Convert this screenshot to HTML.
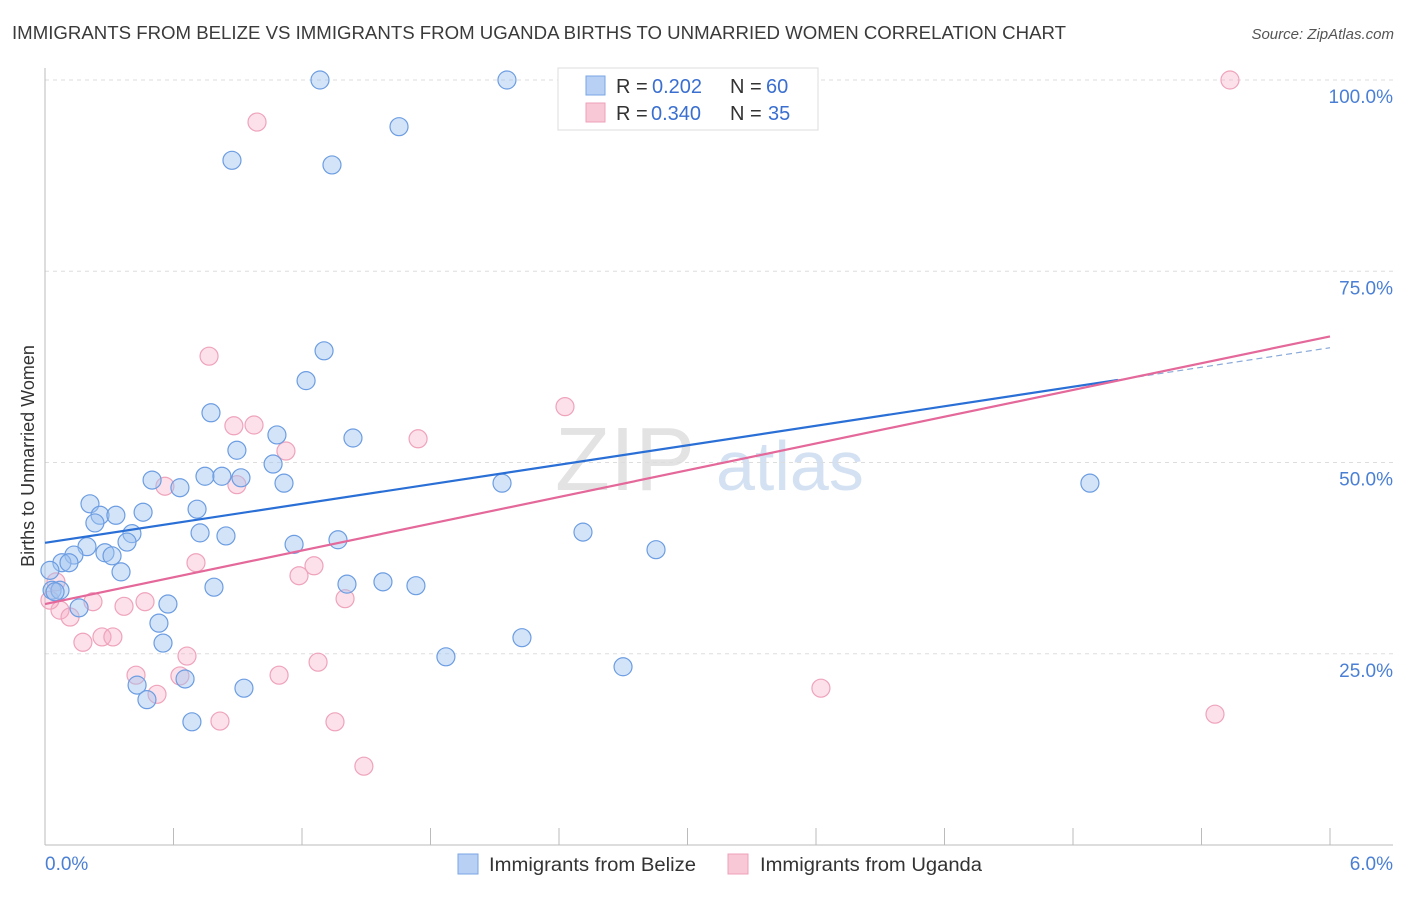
<!DOCTYPE html>
<html><head><meta charset="utf-8"><style>
body{margin:0;background:#fff;font-family:"Liberation Sans",sans-serif}
svg text{font-family:"Liberation Sans",sans-serif}
</style></head><body>
<svg id="chart" width="1406" height="892" xmlns="http://www.w3.org/2000/svg">
<text x="12" y="39" font-size="18" fill="#3a3a3a" textLength="1054" lengthAdjust="spacingAndGlyphs">IMMIGRANTS FROM BELIZE VS IMMIGRANTS FROM UGANDA BIRTHS TO UNMARRIED WOMEN CORRELATION CHART</text>
<text x="1394" y="39" font-size="15" fill="#555" font-style="italic" text-anchor="end">Source: ZipAtlas.com</text>
<g>
<text x="555" y="490" font-size="90" fill="#ddd" font-family="Liberation Serif" opacity="0.8">ZIP</text>
<text x="716" y="490" font-size="70" fill="#c9daf0" opacity="0.8">atlas</text>
</g>
<g id="grid"></g>
<g id="axes"></g>
<g id="marks"></g>
<text transform="translate(34,456) rotate(-90)" font-size="18" fill="#333" text-anchor="middle">Births to Unmarried Women</text>
<g>
<rect x="558" y="68" width="260" height="62" fill="#fff" stroke="#ddd"/>
<rect x="586" y="76" width="19" height="19" fill="#b8d0f4" stroke="#7aa5e3"/>
<text x="616" y="93" font-size="20" fill="#333">R =</text>
<text x="652" y="93" font-size="20" fill="#3a6fd0">0.202</text>
<text x="730" y="93" font-size="20" fill="#333">N =</text>
<text x="766" y="93" font-size="20" fill="#3a6fd0">60</text>
<rect x="586" y="103" width="19" height="19" fill="#f8c8d6" stroke="#eea0b8"/>
<text x="616" y="120" font-size="20" fill="#333">R =</text>
<text x="651" y="120" font-size="20" fill="#3a6fd0">0.340</text>
<text x="730" y="120" font-size="20" fill="#333">N =</text>
<text x="768" y="120" font-size="20" fill="#3a6fd0">35</text>
</g>
<g>
<rect x="458" y="854" width="20" height="20" fill="#b8d0f4" stroke="#7aa5e3"/>
<text x="489" y="871" font-size="19" fill="#333" textLength="207" lengthAdjust="spacingAndGlyphs">Immigrants from Belize</text>
<rect x="728" y="854" width="20" height="20" fill="#f8c8d6" stroke="#eea0b8"/>
<text x="760" y="871" font-size="19" fill="#333" textLength="222" lengthAdjust="spacingAndGlyphs">Immigrants from Uganda</text>
</g>
</svg>
<script>
const yTicks=[25,50,75,100];
const yTickLabels=["25.0%","50.0%","75.0%","100.0%"];
const xTickLabels=["0.0%","6.0%"];
const belizeX=[1.284,2.157,1.653,0.873,1.340,1.303,1.219,0.775,1.083,1.438,0.896,1.065,0.500,0.630,0.747,0.826,0.915,1.116,2.134,4.879,0.210,0.710,0.458,0.257,0.331,0.233,0.406,0.383,0.724,0.845,2.512,2.853,1.163,1.368,0.196,0.135,0.280,0.313,0.079,0.112,0.023,0.355,0.789,1.410,1.578,1.732,0.033,0.070,0.047,0.159,0.574,0.532,0.551,2.227,1.872,2.699,0.430,0.654,0.929,0.476,0.686];
const belizeY=[100,100,93.9,89.5,88.9,64.6,60.7,56.5,53.6,53.2,51.6,49.8,47.7,46.7,48.2,48.2,48.0,47.3,47.3,47.3,44.6,43.9,43.5,43.1,43.1,42.1,40.7,39.6,40.8,40.4,40.9,38.6,39.3,39.9,39.0,37.9,38.2,37.8,36.9,36.9,35.9,35.7,33.7,34.1,34.4,33.9,33.3,33.3,33.1,31.0,31.5,29.0,26.4,27.1,24.6,23.3,20.9,21.7,20.5,19.0,16.1];
const ugandaX=[5.533,0.990,0.766,2.428,0.882,0.976,1.742,1.125,0.896,0.560,0.705,1.256,1.186,1.401,0.224,0.467,0.369,0.070,0.117,0.023,0.051,0.266,0.317,0.177,0.663,1.275,0.425,0.630,1.093,3.623,0.523,0.817,1.354,5.463,1.489];
const ugandaY=[100,94.5,63.9,57.3,54.8,54.9,53.1,51.5,47.1,46.9,36.9,36.5,35.2,32.2,31.8,31.8,31.2,30.7,29.8,32.0,34.4,27.2,27.2,26.5,24.7,23.9,22.2,22.1,22.2,20.5,19.7,16.2,16.1,17.1,10.3];
const belizeTrend=[39.5,4.25]; // intercept, slope
const ugandaTrend=[31.5,5.83];
const xs=v=>45+v/6*1285, ys=v=>845-v*7.65;
const NS="http://www.w3.org/2000/svg";
function mk(t,a,p){const e=document.createElementNS(NS,t);for(const k in a)e.setAttribute(k,a[k]);p.appendChild(e);return e;}
const grid=document.getElementById('grid'),axes=document.getElementById('axes'),marks=document.getElementById('marks');
yTicks.forEach((v,i)=>{
 const l=mk('line',{x1:45,x2:1393,y1:ys(v),y2:ys(v),stroke:'#ddd','stroke-dasharray':'4,4'},grid);
 
 
 const t=mk('text',{x:1393,y:ys(v)+23,'font-size':19,fill:'#4a7fd4','text-anchor':'end'},axes);
 t.textContent=yTickLabels[i];
 
 
});
mk('line',{x1:45,x2:45,y1:68,y2:845,stroke:'#bbb'},axes);
mk('line',{x1:45,x2:1393,y1:845,y2:845,stroke:'#bbb'},axes);
for(let i=0;i<=10;i++){const tk=mk('line',{x1:xs(i*0.6),x2:xs(i*0.6),y1:828,y2:845,stroke:'#bbb'},axes);
 
 }
let t0=mk('text',{x:45,y:870,'font-size':19,fill:'#4a7fd4'},axes);t0.textContent=xTickLabels[0];


let t1=mk('text',{x:1393,y:870,'font-size':19,fill:'#4a7fd4','text-anchor':'end'},axes);t1.textContent=xTickLabels[1];


ugandaX.forEach((x,i)=>{const c=mk('circle',{cx:xs(x),cy:ys(ugandaY[i]),r:9,fill:'rgba(245,170,195,0.35)',stroke:'#efa3bb','stroke-width':1.2},marks);
 
 });
belizeX.forEach((x,i)=>{const c=mk('circle',{cx:xs(x),cy:ys(belizeY[i]),r:9,fill:'rgba(160,195,240,0.45)',stroke:'#6c9de2','stroke-width':1.2},marks);
 
 });
const b1=mk('line',{x1:xs(0),y1:ys(belizeTrend[0]),x2:xs(5.01),y2:ys(belizeTrend[0]+belizeTrend[1]*5.01),stroke:'#2a6fd6','stroke-width':2.2},marks);


const b2=mk('line',{x1:xs(5.01),y1:ys(belizeTrend[0]+belizeTrend[1]*5.01),x2:xs(6),y2:ys(belizeTrend[0]+belizeTrend[1]*6),stroke:'#8aa9d8','stroke-width':1.2,'stroke-dasharray':'6,4'},marks);


const u1=mk('line',{x1:xs(0),y1:ys(ugandaTrend[0]),x2:xs(6),y2:ys(ugandaTrend[0]+ugandaTrend[1]*6),stroke:'#e4689a','stroke-width':2.2},marks);


</script>
</body></html>
